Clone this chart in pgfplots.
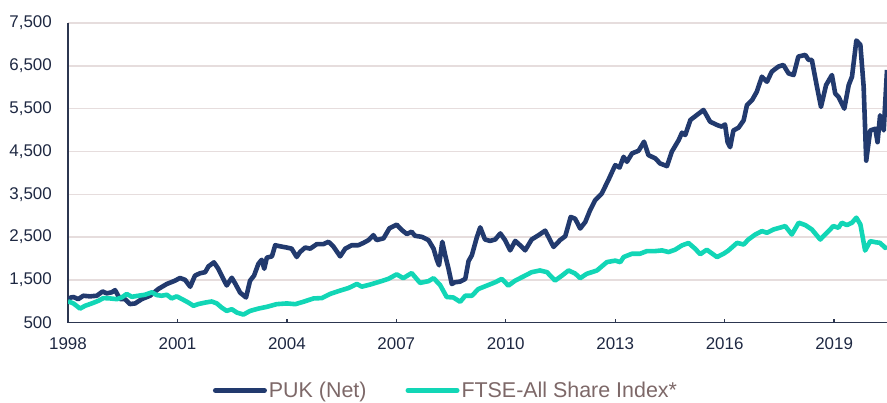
\documentclass[border=0pt]{standalone}
\usepackage{fontspec}
\setmainfont{Liberation Sans}
\usepackage{pgfplots}
\usepackage{pgfplotstable}
\pgfplotsset{compat=1.18}
\definecolor{puk}{RGB}{34,58,110}
\definecolor{ftse}{RGB}{18,214,182}
\definecolor{gridc}{RGB}{230,221,221}
\definecolor{axisc}{RGB}{44,54,80}
\definecolor{labc}{RGB}{30,40,66}
\definecolor{legc}{RGB}{125,104,104}

\pgfplotstableread{
year value
1998.00 1040
1998.08 1090
1998.15 1100
1998.28 1050
1998.42 1130
1998.60 1115
1998.79 1130
1998.95 1230
1999.06 1185
1999.20 1210
1999.29 1260
1999.43 1050
1999.56 1050
1999.70 935
1999.84 950
2000.02 1050
2000.25 1130
2000.48 1290
2000.71 1405
2000.93 1480
2001.07 1545
2001.21 1500
2001.35 1340
2001.48 1600
2001.62 1655
2001.76 1680
2001.85 1815
2002.00 1910
2002.12 1760
2002.26 1520
2002.35 1370
2002.49 1550
2002.58 1420
2002.72 1200
2002.88 1090
2002.99 1480
2003.10 1600
2003.22 1877
2003.31 1970
2003.38 1760
2003.45 2020
2003.59 2050
2003.68 2310
2003.81 2285
2004.00 2255
2004.13 2230
2004.27 2035
2004.36 2150
2004.50 2255
2004.64 2230
2004.82 2335
2005.00 2335
2005.14 2390
2005.27 2285
2005.46 2050
2005.60 2230
2005.78 2310
2005.96 2310
2006.10 2365
2006.24 2430
2006.37 2545
2006.46 2430
2006.65 2470
2006.81 2705
2007.01 2790
2007.15 2665
2007.29 2570
2007.42 2625
2007.51 2530
2007.70 2505
2007.88 2430
2008.02 2230
2008.11 1970
2008.17 1840
2008.26 2390
2008.34 2075
2008.43 1760
2008.52 1405
2008.61 1445
2008.75 1460
2008.89 1523
2008.98 1940
2009.07 2075
2009.21 2505
2009.30 2727
2009.43 2444
2009.57 2410
2009.71 2444
2009.85 2585
2009.98 2430
2010.12 2190
2010.26 2410
2010.39 2310
2010.53 2190
2010.71 2444
2010.90 2545
2011.08 2650
2011.31 2270
2011.49 2430
2011.63 2520
2011.78 2970
2011.90 2930
2012.04 2700
2012.18 2853
2012.31 3126
2012.45 3360
2012.63 3516
2012.81 3829
2013.00 4180
2013.12 4125
2013.23 4375
2013.32 4258
2013.46 4454
2013.64 4516
2013.79 4727
2013.91 4415
2014.10 4337
2014.23 4219
2014.42 4157
2014.55 4493
2014.74 4766
2014.83 4938
2014.92 4883
2015.06 5235
2015.24 5352
2015.42 5469
2015.60 5196
2015.79 5118
2015.92 5079
2016.01 5130
2016.08 4717
2016.15 4599
2016.24 4991
2016.38 5054
2016.52 5226
2016.61 5579
2016.75 5697
2016.88 5893
2017.02 6246
2017.16 6128
2017.29 6363
2017.47 6481
2017.61 6520
2017.75 6324
2017.89 6285
2018.02 6716
2018.21 6755
2018.30 6638
2018.39 6638
2018.53 6010
2018.64 5540
2018.78 6050
2018.94 6285
2019.03 5854
2019.12 5775
2019.28 5501
2019.40 6050
2019.49 6246
2019.61 7092
2019.72 6990
2019.81 6010
2019.88 4286
2019.99 4991
2020.13 5030
2020.19 4717
2020.26 5344
2020.36 4991
2020.45 6402
}\puktable

\pgfplotstableread{
year value
1998.00 1000
1998.15 950
1998.33 830
1998.47 895
1998.65 950
1998.83 1010
1998.97 1075
1999.15 1067
1999.34 1050
1999.47 1090
1999.61 1170
1999.75 1105
1999.93 1130
2000.11 1153
2000.30 1210
2000.43 1145
2000.57 1130
2000.71 1153
2000.84 1067
2000.98 1115
2001.16 1035
2001.30 970
2001.44 895
2001.57 935
2001.76 970
2001.94 996
2002.08 950
2002.21 855
2002.35 775
2002.49 815
2002.63 736
2002.81 690
2002.99 775
2003.22 830
2003.45 870
2003.72 933
2004.00 950
2004.23 933
2004.45 988
2004.73 1067
2004.96 1075
2005.18 1170
2005.46 1250
2005.69 1310
2005.92 1405
2006.05 1342
2006.28 1390
2006.55 1460
2006.78 1523
2007.01 1630
2007.19 1540
2007.42 1660
2007.65 1430
2007.88 1470
2008.02 1540
2008.20 1380
2008.38 1100
2008.56 1090
2008.75 988
2008.89 1130
2009.07 1130
2009.25 1287
2009.48 1366
2009.71 1445
2009.89 1523
2010.07 1366
2010.26 1484
2010.48 1578
2010.71 1680
2010.94 1720
2011.13 1680
2011.35 1484
2011.54 1600
2011.72 1720
2011.90 1650
2012.04 1540
2012.22 1642
2012.50 1720
2012.77 1915
2013.00 1950
2013.14 1915
2013.23 2033
2013.46 2111
2013.68 2111
2013.87 2173
2014.10 2173
2014.28 2189
2014.46 2150
2014.64 2204
2014.83 2306
2015.01 2361
2015.19 2228
2015.33 2100
2015.51 2204
2015.79 2033
2015.97 2111
2016.10 2185
2016.34 2365
2016.52 2326
2016.65 2443
2016.84 2561
2017.02 2639
2017.16 2600
2017.34 2678
2017.57 2733
2017.66 2757
2017.84 2561
2018.03 2835
2018.21 2780
2018.39 2678
2018.62 2443
2018.80 2600
2018.98 2757
2019.12 2718
2019.21 2835
2019.35 2780
2019.49 2835
2019.61 2953
2019.72 2796
2019.85 2185
2019.99 2404
2020.13 2380
2020.26 2365
2020.40 2247
2020.45 2287
}\ftsetable

\begin{document}
\begin{tikzpicture}
\begin{axis}[
  at={(68bp,80.3bp)}, anchor=south west,
  scale only axis, width=819bp, height=299.7bp,
  xmin=1998, xmax=2020.45, ymin=500, ymax=7500,
  axis lines=left,
  axis line style={-, draw=axisc, line width=1.3bp},
  xtick={1998,2001,2004,2007,2010,2013,2016,2019},
  ytick={500,1500,2500,3500,4500,5500,6500,7500},
  tick align=inside, major tick length=4bp,
  xtick style={draw=axisc, line width=1.3bp},
  ytick style={draw=none},
  ymajorgrids, grid style={draw=gridc, line width=1.5bp},
  /pgf/number format/assume math mode=true,
  tick label style={font=\fontsize{17}{20}\selectfont, text=labc},
  xticklabel style={/pgf/number format/1000 sep={}, inner sep=0pt, yshift=-15bp},
  yticklabel style={/pgf/number format/1000 sep={,}, inner sep=0pt, xshift=-16bp},
  legend columns=2,
  legend style={at={(0.4615,-0.226)}, anchor=center, draw=none, fill=none,
    font=\fontsize{21.5}{25}\selectfont, text=legc,
    /tikz/every even column/.append style={column sep=37bp}},
  legend image code/.code={\draw[#1, line width=5bp, line cap=round] (0bp,0bp) -- (49bp,0bp);},
]
\addplot[puk, line width=4.6bp, line join=round] table[x=year, y=value] {\puktable};
\addlegendentry{PUK (Net)}
\addplot[ftse, line width=4.6bp, line join=round] table[x=year, y=value] {\ftsetable};
\addlegendentry{FTSE-All Share Index*}
\end{axis}
\pgfresetboundingbox
\path[use as bounding box] (0,0) rectangle (887bp,403bp);
\end{tikzpicture}
\end{document}
